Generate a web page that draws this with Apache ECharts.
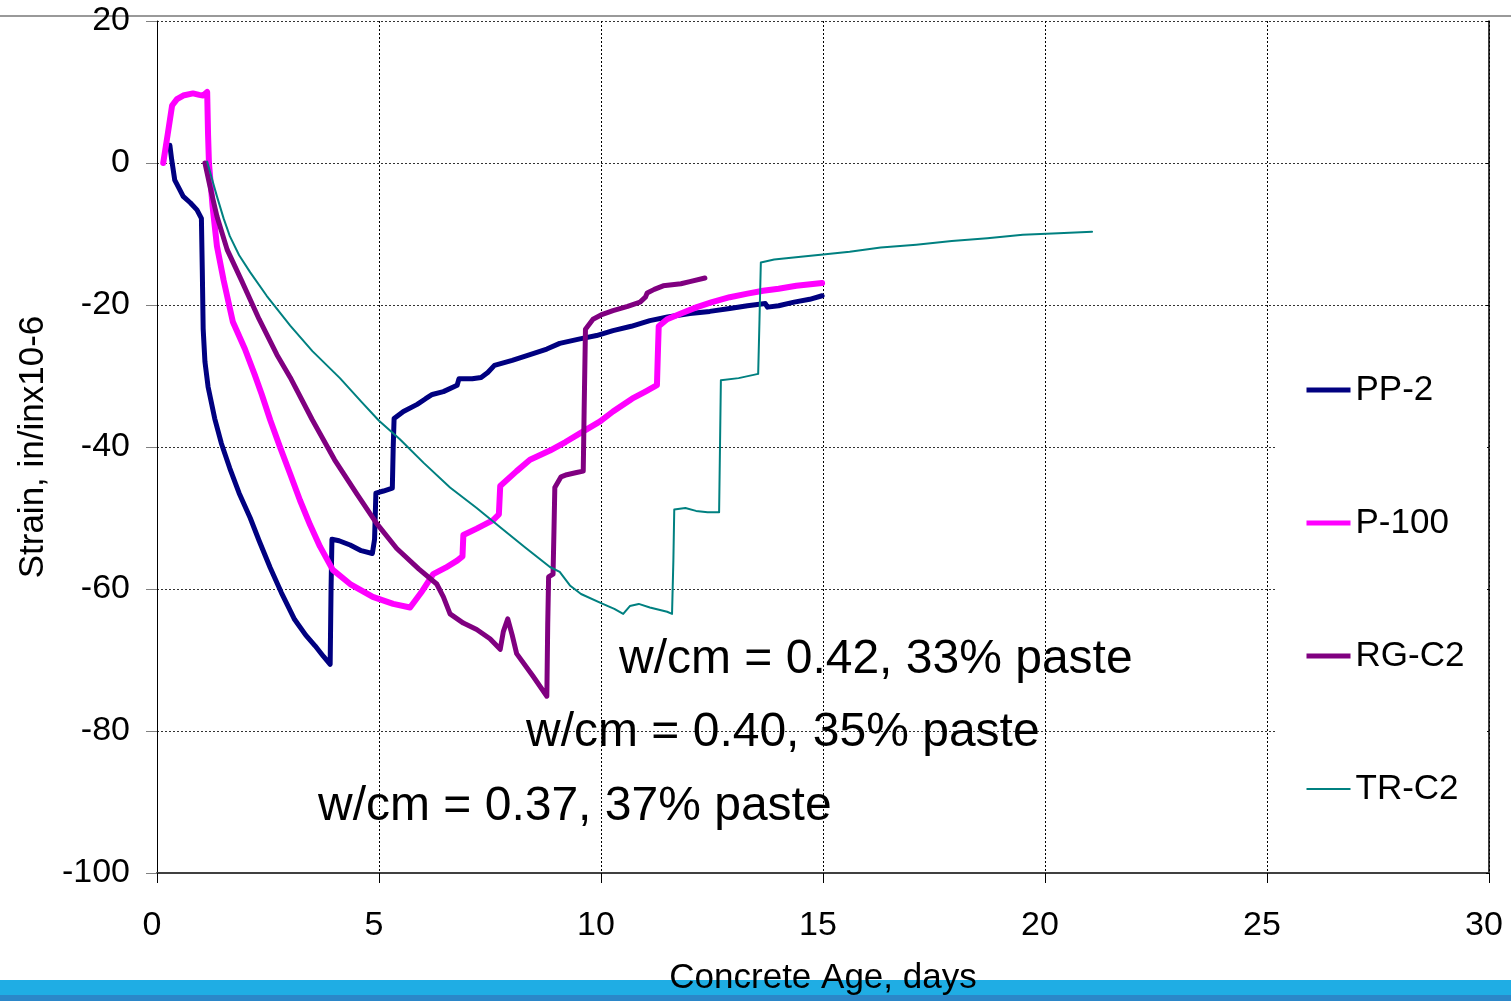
<!DOCTYPE html>
<html>
<head>
<meta charset="utf-8">
<script src="https://cdn.jsdelivr.net/npm/echarts@6/dist/echarts.min.js"></script>
<style>
  html, body { margin: 0; padding: 0; background: #fff; }
  #chart { width: 1511px; height: 1001px; }
</style>
</head>
<body>
<div id="chart"></div>
<script>
// Restrained shrinkage strain vs concrete age, four mixes
const seriesNames = ['PP-2', 'P-100', 'RG-C2', 'TR-C2'];
const seriesColors = ['#000080', '#FF00FF', '#800080', '#008080'];
const seriesWidths = [5, 6, 5, 2];
const legendWidths = [5, 5, 5, 2];

const xTicks = { min: 0, max: 30, interval: 5 };
const yTicks = { min: -100, max: 20, interval: 20 };

// [age in days, strain in in/in x10-6]
const pp2 = [
  [0.29, 2.5], [0.33, 0.5], [0.4, -2.4], [0.5, -3.6], [0.59, -4.7], [0.75, -5.6], [0.9, -6.6], [1.0, -7.8],
  [1.02, -15], [1.04, -23.4], [1.08, -28], [1.15, -31.5], [1.3, -36], [1.45, -39.5], [1.64, -43], [1.85, -46.5],
  [2.1, -50], [2.3, -53.2], [2.55, -57], [2.8, -60.5], [3.1, -64.3], [3.35, -66.5], [3.56, -68], [3.75, -69.5],
  [3.9, -70.6], [3.92, -60], [3.94, -53], [4.1, -53.2], [4.35, -53.8], [4.6, -54.6], [4.85, -55], [4.9, -53],
  [4.93, -46.5], [5.1, -46.2], [5.3, -45.8], [5.32, -40], [5.34, -36], [5.55, -35], [5.86, -34], [6.05, -33.2],
  [6.2, -32.6], [6.45, -32.2], [6.76, -31.3], [6.8, -30.4], [7.1, -30.4], [7.3, -30.2], [7.45, -29.5], [7.6, -28.5],
  [8.0, -27.8], [8.4, -27], [8.78, -26.2], [9.07, -25.4], [9.5, -24.8], [9.9, -24.3], [10.27, -23.6], [10.68, -23.0],
  [11.1, -22.2], [11.5, -21.7], [12.0, -21.2], [12.45, -20.9], [12.9, -20.5], [13.3, -20.1], [13.7, -19.8],
  [13.75, -20.3], [14.0, -20.1], [14.35, -19.6], [14.7, -19.2], [14.98, -18.7]
];

const p100 = [
  [0.14, 0], [0.24, 4], [0.34, 8.1], [0.45, 9], [0.59, 9.5], [0.81, 9.8], [0.95, 9.6], [1.04, 9.5], [1.13, 10],
  [1.15, 4], [1.17, 0], [1.25, -6], [1.35, -11.7], [1.5, -16.5], [1.71, -22.4], [1.98, -26.2], [2.2, -29.8],
  [2.36, -32.6], [2.55, -36.2], [2.77, -40], [3.0, -43.8], [3.22, -47.5], [3.45, -51], [3.67, -54], [3.96, -57.3],
  [4.35, -59.3], [4.86, -61.1], [5.32, -62.1], [5.7, -62.6], [5.95, -60.5], [6.22, -57.9], [6.5, -57], [6.76, -56.0],
  [6.88, -55.4], [6.9, -52.4], [7.2, -51.5], [7.57, -50.3], [7.7, -49.5], [7.73, -45.5], [8.1, -43.4], [8.4, -41.8],
  [8.85, -40.5], [9.2, -39.3], [9.6, -37.8], [9.98, -36.4], [10.27, -35], [10.7, -33.2], [11.0, -32.2],
  [11.26, -31.3], [11.28, -27], [11.3, -23], [11.49, -22], [11.8, -21.2], [12.16, -20.3], [12.5, -19.6],
  [12.9, -18.9], [13.3, -18.4], [13.65, -18.0], [14.0, -17.7], [14.4, -17.3], [14.98, -16.9]
];

const rgC2 = [
  [1.08, 0], [1.2, -3.5], [1.35, -7.5], [1.58, -12.2], [1.9, -16.5], [2.3, -22], [2.7, -27], [3.0, -30.2],
  [3.5, -36.2], [4.0, -41.8], [4.5, -46.6], [4.95, -50.8], [5.4, -54.3], [5.9, -57.2], [6.3, -59.3], [6.45, -61.1],
  [6.6, -63.5], [6.9, -64.8], [7.2, -65.7], [7.5, -67], [7.73, -68.5], [7.8, -66], [7.9, -64.2], [8.0, -66.5],
  [8.1, -69.1], [8.47, -72.3], [8.78, -75.1], [8.8, -65], [8.82, -58.3], [8.92, -57.9], [8.94, -52], [8.96, -45.7],
  [9.1, -44.2], [9.23, -43.9], [9.45, -43.6], [9.6, -43.4], [9.62, -35], [9.65, -23.4], [9.82, -22.0], [10.0, -21.4],
  [10.27, -20.8], [10.6, -20.2], [10.88, -19.6], [11.0, -18.9], [11.04, -18.3], [11.2, -17.8], [11.4, -17.3],
  [11.8, -17], [12.0, -16.7], [12.34, -16.2]
];

const trC2 = [
  [1.13, 0.2], [1.25, -2.5], [1.35, -4.7], [1.5, -7.8], [1.64, -10.3], [1.85, -13], [2.1, -15.4], [2.47, -18.7],
  [3.0, -22.9], [3.5, -26.5], [4.12, -30.3], [4.6, -33.6], [5.0, -36.3], [5.47, -38.9], [6.0, -42.2], [6.6, -45.7],
  [7.2, -48.6], [7.73, -51.3], [8.3, -54.2], [8.85, -56.9], [9.07, -57.6], [9.3, -59.5], [9.55, -60.7],
  [10.04, -62.1], [10.3, -62.8], [10.5, -63.5], [10.65, -62.4], [10.85, -62.1], [11.1, -62.6], [11.49, -63.2],
  [11.6, -63.5], [11.63, -56], [11.65, -48.8], [11.9, -48.6], [12.14, -49], [12.4, -49.2], [12.66, -49.2],
  [12.68, -40], [12.7, -30.6], [13.1, -30.3], [13.54, -29.7], [13.57, -22], [13.6, -14.0], [13.9, -13.6],
  [14.5, -13.2], [15.0, -12.9], [15.6, -12.5], [16.3, -11.9], [17.1, -11.5], [17.9, -11.0], [18.7, -10.6],
  [19.5, -10.1], [20.3, -9.9], [21.06, -9.7]
];

const seriesData = [pp2, p100, rgC2, trC2];

const notes = [
  'w/cm = 0.42, 33% paste',
  'w/cm = 0.40, 35% paste',
  'w/cm = 0.37, 37% paste'
];

const FONT = '"Liberation Sans", Arial, Helvetica, sans-serif';

const chart = echarts.init(document.getElementById('chart'), null, { renderer: 'canvas' });

const option = {
  backgroundColor: '#ffffff',
  animation: false,
  grid: { left: 157, right: 22, top: 21, bottom: 121, containLabel: false },
  xAxis: {
    type: 'value',
    min: xTicks.min, max: xTicks.max, interval: xTicks.interval,
    name: 'Concrete Age, days',
    nameLocation: 'middle',
    nameGap: 88,
    nameTextStyle: { fontFamily: FONT, fontSize: 35, color: '#000' },
    axisLine: { show: true, onZero: false, lineStyle: { color: '#404040', width: 2 } },
    axisTick: { show: true, length: 10, lineStyle: { color: '#000', width: 1 } },
    axisLabel: { fontFamily: FONT, fontSize: 34, color: '#000', margin: 36, padding: [0, 10, 0, 0] },
    splitLine: { show: true, lineStyle: { color: '#000', width: 1, type: [2, 2] } }
  },
  yAxis: [
    {
      type: 'value',
      min: yTicks.min, max: yTicks.max, interval: yTicks.interval,
      name: 'Strain, in/inx10-6',
      nameLocation: 'middle',
      nameGap: 106,
      nameTextStyle: { fontFamily: FONT, fontSize: 35, color: '#000' },
      axisLine: { show: true, lineStyle: { color: '#000', width: 1 } },
      axisTick: { show: true, length: 11, lineStyle: { color: '#808080', width: 1 } },
      axisLabel: { fontFamily: FONT, fontSize: 34, color: '#000', margin: 27 },
      splitLine: { show: true, lineStyle: { color: '#333', width: 1, type: [2, 2] } }
    },
    {
      // right frame of the plot area
      type: 'value',
      position: 'right',
      min: yTicks.min, max: yTicks.max, interval: yTicks.interval,
      axisLine: { show: true, lineStyle: { color: '#000', width: 1.5 } },
      axisTick: { show: true, inside: true, length: 3, lineStyle: { color: '#000' } },
      axisLabel: { show: false },
      splitLine: { show: false }
    }
  ],
  legend: {
    orient: 'vertical',
    left: 1299,
    top: 366,
    itemWidth: 44,
    itemHeight: 6,
    itemGap: 95,
    // line icons only, no marker dot
    itemStyle: { color: 'rgba(0,0,0,0)', borderWidth: 0, opacity: 0 },
    data: seriesNames.map((n, i) => ({
      name: n,
      lineStyle: { color: seriesColors[i], width: legendWidths[i], cap: 'butt' }
    })),
    textStyle: { fontFamily: FONT, fontSize: 35, color: '#000', lineHeight: 38 },
    selectedMode: false,
    z: 10
  },
  series: seriesNames.map((name, i) => ({
    name: name,
    type: 'line',
    data: seriesData[i],
    showSymbol: false,
    symbol: 'none',
    itemStyle: { color: seriesColors[i] },
    lineStyle: { color: seriesColors[i], width: seriesWidths[i], join: 'round', cap: 'round' },
    z: 2 + i
  })),
  graphic: [
    { type: 'line', shape: { x1: 0, y1: 16, x2: 1511, y2: 16 }, style: { stroke: '#999', lineWidth: 2 }, z: -5 },
    { type: 'rect', shape: { x: 1277, y: 318, width: 210, height: 548 }, style: { fill: '#fff' }, z: 1 },
    { type: 'rect', shape: { x: 0, y: 980, width: 1511, height: 15 }, style: { fill: '#1FADE4' }, z: -10 },
    { type: 'rect', shape: { x: 0, y: 995, width: 1511, height: 6 }, style: { fill: '#2B87C9' }, z: -10 },
    { type: 'text', left: 619, top: 636, z: 20, style: { text: notes[0], font: '48px ' + FONT, fill: '#000' } },
    { type: 'text', left: 526, top: 709, z: 20, style: { text: notes[1], font: '48px ' + FONT, fill: '#000' } },
    { type: 'text', left: 318, top: 783, z: 20, style: { text: notes[2], font: '48px ' + FONT, fill: '#000' } }
  ]
};

chart.setOption(option);
</script>
</body>
</html>
